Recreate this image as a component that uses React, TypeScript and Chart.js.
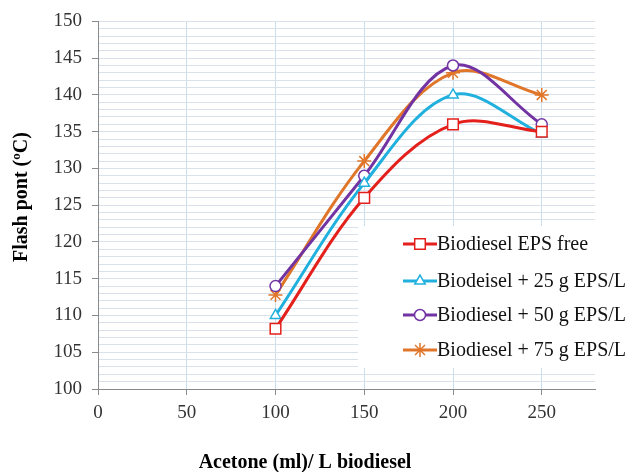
import React, { useEffect, useRef } from "react";
import { Chart, registerables } from "chart.js";
import { drawPoint } from "chart.js/helpers";

Chart.register(...registerables);

const xValues = [100, 150, 200, 250];
const epsFree = [108.2, 126, 136, 135];
const eps25 = [110, 128, 140, 134.7];
const eps50 = [114, 129, 144, 136];
const eps75 = [112.8, 131, 143, 140];
const seriesLabels = [
  "Biodiesel EPS free",
  "Biodeisel + 25 g EPS/L",
  "Biodiesel + 50 g EPS/L",
  "Biodiesel + 75 g EPS/L",
];
const xTitle = "Acetone (ml)/ L biodiesel";
const yTitle = "Flash pont (\u00baC)";

const SERIF = '"Liberation Serif", "Times New Roman", serif';

const styles = [
  { color: "#e3201b", pointStyle: "rect", radius: 7.5 },
  { color: "#20b0de", pointStyle: "triangle", radius: 6 },
  { color: "#7233a3", pointStyle: "circle", radius: 5.5 },
  { color: "#e0762a", pointStyle: "star", radius: 7 },
];

const legendRows = [244, 281, 315, 350];

const overlayPlugin = {
  id: "overlay",
  afterDraw(chart: any) {
    const ctx = chart.ctx;
    ctx.save();
    ctx.fillStyle = "#ffffff";
    ctx.fillRect(358, 226, 271, 142);
    chart.data.datasets.forEach((ds: any, i: number) => {
      const y = legendRows[i];
      ctx.strokeStyle = ds.borderColor;
      ctx.lineWidth = 3;
      ctx.beginPath();
      ctx.moveTo(403, y);
      ctx.lineTo(437, y);
      ctx.stroke();
      ctx.fillStyle = "#ffffff";
      ctx.strokeStyle = ds.borderColor;
      ctx.lineWidth = 1.5;
      drawPoint(ctx, { pointStyle: ds.pointStyle, radius: ds.pointRadius, borderWidth: 1.5, rotation: 0 }, 420, y);
      ctx.fillStyle = "#111111";
      ctx.font = `20px ${SERIF}`;
      ctx.textAlign = "left";
      ctx.textBaseline = "middle";
      ctx.fillText(ds.label, 437, y + 1);
    });
    ctx.fillStyle = "#000000";
    ctx.font = `bold 20px ${SERIF}`;
    ctx.textAlign = "center";
    ctx.textBaseline = "middle";
    ctx.fillText(xTitle, 305, 463);
    ctx.save();
    ctx.translate(22, 197);
    ctx.rotate(-Math.PI / 2);
    ctx.fillText(yTitle, 0, 0);
    ctx.restore();
    ctx.restore();
  },
};

export default function App() {
  const ref = useRef<HTMLCanvasElement | null>(null);
  useEffect(() => {
    if (!ref.current) return;
    const datasets = [epsFree, eps25, eps50, eps75].map((vals, i) => ({
      label: seriesLabels[i],
      data: xValues.map((x, j) => ({ x, y: vals[j] })),
      borderColor: styles[i].color,
      backgroundColor: "#ffffff",
      pointBackgroundColor: "#ffffff",
      pointBorderColor: styles[i].color,
      pointBorderWidth: 1.5,
      pointStyle: styles[i].pointStyle,
      pointRadius: styles[i].radius,
      borderWidth: 3,
      tension: 0.35,
      fill: false,
    }));
    const chart = new Chart(ref.current, {
      type: "line",
      data: { datasets },
      plugins: [overlayPlugin],
      options: {
        animation: false,
        responsive: false,
        layout: { padding: { left: 0, right: 34, top: 19, bottom: 0 } },
        plugins: { legend: { display: false }, tooltip: { enabled: false } },
        scales: {
          x: {
            type: "linear",
            min: 0,
            max: 280,
            border: { color: "#8a8a8a", width: 1 },
            grid: {
              color: "#c9dff0",
              tickColor: "#8a8a8a",
              tickLength: 6,
              drawOnChartArea: true,
            },
            ticks: {
              stepSize: 50,
              includeBounds: false,
              padding: 7,
              color: "#333333",
              font: { family: SERIF, size: 19 },
              maxRotation: 0,
            },
            afterFit(scale: any) {
              scale.height = 83;
            },
          },
          y: {
            type: "linear",
            min: 100,
            max: 150,
            border: { color: "#8a8a8a", width: 1 },
            grid: {
              color: (c: any) => (c.tick && c.tick.value === 100 ? "#8a8a8a" : "#d9e2ea"),
              tickColor: (c: any) => (c.tick && c.tick.value % 5 === 0 ? "#8a8a8a" : "rgba(0,0,0,0)"),
              tickLength: 6,
            },
            ticks: {
              stepSize: 1,
              autoSkip: false,
              padding: 10,
              color: "#333333",
              font: { family: SERIF, size: 19 },
              callback: (v: any) => (Number(v) % 5 === 0 ? String(v) : ""),
            },
            afterFit(scale: any) {
              scale.width = 98;
            },
          },
        },
      },
    } as any);
    return () => chart.destroy();
  }, []);
  return (
    <div style={{ position: "absolute", left: 0, top: 0, width: 629, height: 472, background: "#fff" }}>
      <canvas ref={ref} width={629} height={472} style={{ width: 629, height: 472, display: "block" }} />
    </div>
  );
}
